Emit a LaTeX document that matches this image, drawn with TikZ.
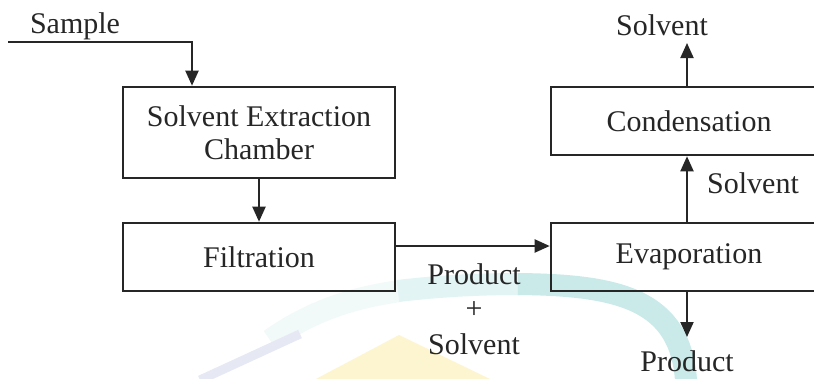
\documentclass[tikz,border=0pt]{standalone}
\usepackage{fontspec}
\setmainfont{Liberation Serif}
\usetikzlibrary{arrows.meta}
\definecolor{ink}{HTML}{262626}
\definecolor{wmcyan}{HTML}{C9EAE9}
\definecolor{wmcyanmd}{HTML}{E2F4F3}
\definecolor{wmcyanlt}{HTML}{F1F9F9}
\definecolor{wmyellow}{HTML}{FDF5CF}
\definecolor{wmblue}{HTML}{E6E8F4}
\tikzset{
  procbox/.style={draw=ink, line width=2.6pt, fill=none, text=ink,
    minimum height=68pt, align=center, inner sep=0pt,
    font=\fontsize{30}{35}\selectfont},
  lbl/.style={text=ink, inner sep=0pt, align=center,
    font=\fontsize{30}{35}\selectfont},
  flow/.style={draw=ink, line width=2pt,
    -{Triangle[length=15pt,width=13pt]}},
}
\begin{document}
\begin{tikzpicture}[x=1pt,y=-1pt]
\useasboundingbox (0,0) rectangle (814,378);
\clip (0,0) rectangle (814,378);
\fill[white] (0,0) rectangle (814,378);

% faint logo behind the lower part
\draw[wmcyanlt, line width=22pt] (270,340) .. controls (310,312) and (350,298) .. (400,291);
\draw[wmcyanmd, line width=22pt] (398,291) .. controls (440,286) and (480,284) .. (520,284);
\draw[wmcyan, line width=22pt] (518,284) .. controls (620,285) and (680,300) .. (686,380);
\fill[wmyellow] (399,335) -- (492,380) -- (314,380) -- cycle;
\draw[wmblue, line width=9pt] (200,380) -- (300,334);

% process boxes
\node[procbox, minimum width=272pt, minimum height=91pt] (ext) at (259,132.5)
  {Solvent Extraction\\[-2pt]Chamber};
\node[procbox, minimum width=272pt] (filt) at (259,257) {Filtration};
\node[procbox, minimum width=276pt] (evap) at (689,257) {Evaporation};
\node[procbox, minimum width=276pt] (cond) at (689,121) {Condensation};

% stream labels
\node[lbl] (lsample) at (75,26) {Sample};
\node[lbl] (lsolvtop) at (662,25) {Solvent};
\node[lbl] (lsolvmid) at (753,183) {Solvent};
\node[lbl] (lprod) at (474,274) {Product};
\node[lbl] (lplus) at (474,310) {+};
\node[lbl] (lsolvbot) at (474,344) {Solvent};
\node[lbl] (lprodout) at (687,361) {Product};

% free ends of streams
\coordinate (feedin) at (8,42);
\coordinate (feedturn) at (192,42);
\coordinate (solvout) at (687,43);
\coordinate (prodout) at (687,337);

% streams
\draw[flow] (feedin) -- (feedturn) -- (ext.north -| feedturn);
\draw[flow] (ext.south) -- (filt.north);
\draw[flow] ([yshift=11pt]filt.east) -- ([yshift=11pt]evap.west);
\draw[flow] (evap.north -| solvout) -- (cond.south -| solvout);
\draw[flow] (cond.north -| solvout) -- (solvout);
\draw[flow] (evap.south -| prodout) -- (prodout);
\end{tikzpicture}
\end{document}
